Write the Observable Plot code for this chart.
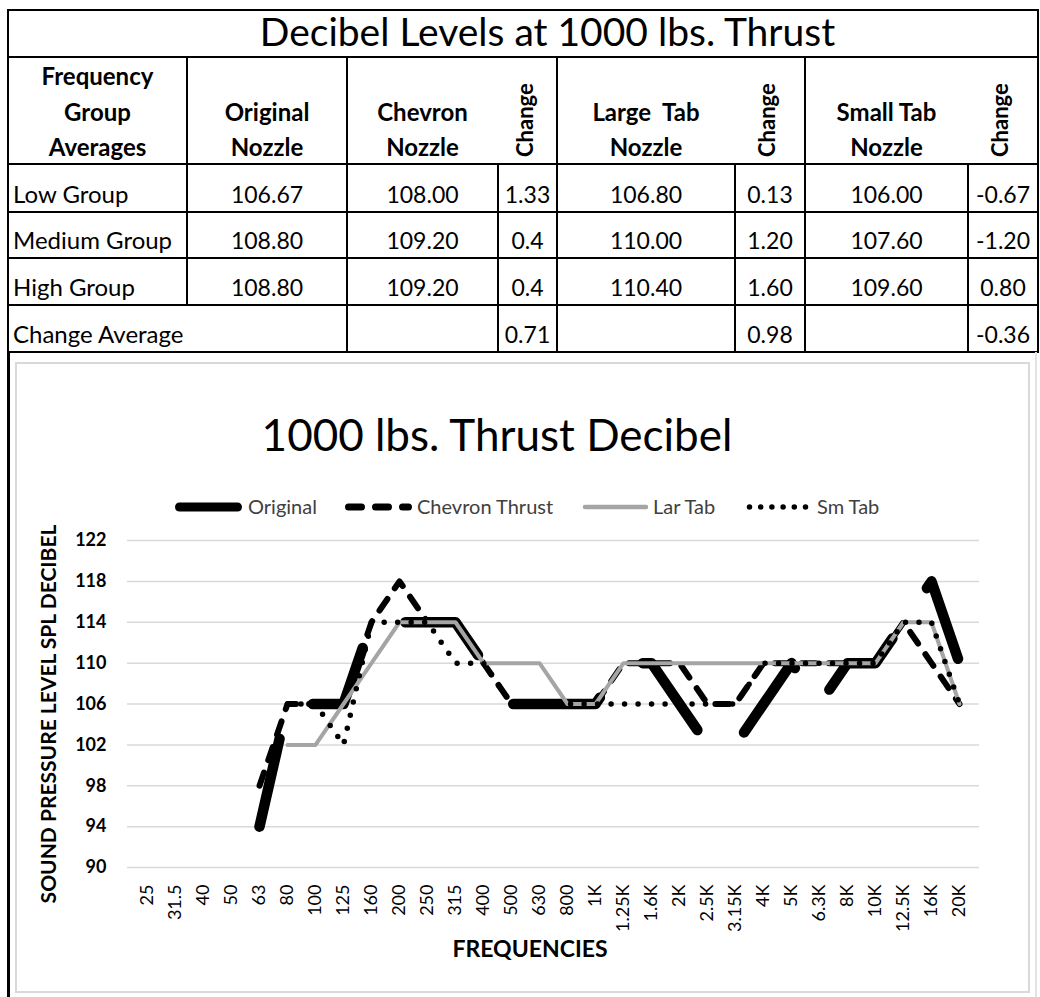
<!DOCTYPE html>
<html>
<head>
<meta charset="utf-8">
<script src="https://cdn.jsdelivr.net/npm/d3@7"></script>
<script src="https://cdn.jsdelivr.net/npm/@observablehq/plot@0.6"></script>
<style>
html,body{margin:0;padding:0;background:#fff;}
#page{position:relative;width:1040px;height:997px;overflow:hidden;font-family:Lato,"Open Sans",sans-serif;color:#000;}
.cell{position:absolute;box-sizing:border-box;border:2px solid #000;}
.t{position:absolute;white-space:pre;}
</style>
</head>
<body>
<div id="page"></div>
<script>
// ---------- DATA ----------
const frequencies = ["25","31.5","40","50","63","80","100","125","160","200","250","315","400","500","630","800","1K","1.25K","1.6K","2K","2.5K","3.15K","4K","5K","6.3K","8K","10K","12.5K","16K","20K"];
const seriesNames = ["Original","Chevron Thrust","Lar Tab","Sm Tab"];
const original = [null,null,null,null,94,106,106,106,114,114,114,114,110,106,106,106,106,110,110,106,102,102,106,110,106,110,110,114,118,110];
const chevron  = [null,null,null,null,98,106,106,106,114,118,114,114,110,106,106,106,106,110,110,110,106,106,110,110,110,110,110,114,110,106];
const larTab   = [null,null,null,null,null,102,102,106,110,114,114,114,110,110,110,106,106,110,110,110,110,110,110,110,110,110,110,114,114,106];
const smTab    = [null,null,null,null,null,106,106,102,114,114,114,110,110,106,106,106,106,106,106,106,106,106,110,110,110,110,110,114,114,106];
const yTicks = [90,94,98,102,106,110,114,118,122];
const chartTitle = "1000 lbs. Thrust Decibel";
const xAxisTitle = "FREQUENCIES";
const yAxisTitle = "SOUND PRESSURE LEVEL SPL DECIBEL";

const tableTitle = "Decibel Levels at 1000 lbs. Thrust";
const headerGroup = ["Frequency","Group","Averages"];
const headerNozzles = [["Original","Nozzle"],["Chevron","Nozzle"],["Large  Tab","Nozzle"],["Small Tab","Nozzle"]];
const headerChange = "Change";
const groupNames = ["Low Group","Medium Group","High Group"];
const originalNozzle = ["106.67","108.80","108.80"];
const chevronNozzle  = ["108.00","109.20","109.20"];
const chevronChange  = ["1.33","0.4","0.4"];
const largeTabNozzle = ["106.80","110.00","110.40"];
const largeTabChange = ["0.13","1.20","1.60"];
const smallTabNozzle = ["106.00","107.60","109.60"];
const smallTabChange = ["-0.67","-1.20","0.80"];
const changeAverageLabel = "Change Average";
const changeAverage  = ["0.71","0.98","-0.36"];

// ---------- LAYOUT HELPERS ----------
const page = document.getElementById("page");
function box(x0,y0,x1,y1){
  const d=document.createElement("div"); d.className="cell";
  d.style.left=(x0-1)+"px"; d.style.top=(y0-1)+"px";
  d.style.width=(x1-x0+2)+"px"; d.style.height=(y1-y0+2)+"px";
  page.appendChild(d); return d;
}
function text(str,x,baseline,{size=22,weight=400,anchor="middle",color="#000",rotate=false}={}){
  const d=document.createElement("div"); d.className="t"; d.textContent=str;
  d.style.fontSize=size+"px"; d.style.fontWeight=weight;
  d.style.lineHeight=(1.2*size)+"px"; d.style.color=color;
  if(!rotate){
    d.style.top=(baseline-0.987*size)+"px";
    d.style.left=x+"px";
    if(anchor==="middle") d.style.transform="translateX(-50%)";
  } else {
    d.style.left=(x-0.987*size)+"px"; d.style.top=baseline+"px";
    d.style.transformOrigin="0 0"; d.style.transform="rotate(-90deg)";
  }
  page.appendChild(d); return d;
}

// ---------- TABLE ----------
const cx=[8,187,347,498,557,735,805,968,1038];
const ry=[10,57,164,212,258,305,352];
const mid=j=>(cx[j]+cx[j+1])/2;
box(8,10,1038,57);
text(tableTitle,547.5,46,{size:39});
box(cx[0],ry[1],cx[1],ry[2]); box(cx[1],ry[1],cx[2],ry[2]);
box(cx[2],ry[1],cx[4],ry[2]); box(cx[4],ry[1],cx[6],ry[2]); box(cx[6],ry[1],cx[8],ry[2]);
headerGroup.forEach((s,k)=>text(s,mid(0),86+35.3*k,{size:24,weight:700}));
[1,2,4,6].forEach((j,k)=>{
  text(headerNozzles[k][0],mid(j),121.7,{size:24,weight:700});
  text(headerNozzles[k][1],mid(j),156.7,{size:24,weight:700});
});
[3,5,7].forEach(j=>text(headerChange,mid(j)+6,157,{size:22,weight:700,rotate:true}));
const cols=[originalNozzle,chevronNozzle,chevronChange,largeTabNozzle,largeTabChange,smallTabNozzle,smallTabChange];
groupNames.forEach((g,r)=>{
  for(let j=0;j<8;j++) box(cx[j],ry[r+2],cx[j+1],ry[r+3]);
  const base=ry[r+3]-8.6;
  text(g,13,base,{size:24,anchor:"start"});
  cols.forEach((c,k)=>text(c[r],mid(k+1),base,{size:23}));
});
box(cx[0],ry[5],cx[2],ry[6]);
for(let j=2;j<8;j++) box(cx[j],ry[5],cx[j+1],ry[6]);
text(changeAverageLabel,13,ry[6]-8.6,{size:24,anchor:"start"});
[3,5,7].forEach((j,k)=>text(changeAverage[k],mid(j),ry[6]-8.6,{size:23}));

// side lines below table
const lineL=document.createElement("div");
Object.assign(lineL.style,{position:"absolute",left:"7px",top:"352px",width:"2.5px",height:"645px",background:"#000"});
page.appendChild(lineL);
const lineR=document.createElement("div");
Object.assign(lineR.style,{position:"absolute",left:"1035px",top:"352px",width:"1.5px",height:"645px",background:"#e3e3e3"});
page.appendChild(lineR);

// ---------- CHART BOX ----------
const cbox=document.createElement("div");
Object.assign(cbox.style,{position:"absolute",left:"15px",top:"362px",width:"1015px",height:"631px",boxSizing:"border-box",border:"2px solid #d9d9d9"});
page.appendChild(cbox);
text(chartTitle,497,451,{size:44,color:"#000"});

// legend
const seriesStyles=[
  {stroke:"#000",strokeWidth:10.5,strokeDasharray:"90 61"},
  {stroke:"#000",strokeWidth:6,strokeDasharray:"14 13"},
  {stroke:"#a5a5a5",strokeWidth:4},
  {stroke:"#000",strokeWidth:5.5,strokeDasharray:"0 13.5"}
];
const legendStyles=[
  {x0:179.5,x1:237.5,w:9,dash:null,color:"#000",tx:248},
  {x0:348.5,x1:408.5,w:7,dash:"13 14",color:"#000",tx:417},
  {x0:585,x1:646,w:4.5,dash:null,color:"#a5a5a5",tx:653},
  {x0:749.5,x1:806,w:5.5,dash:"0 11.2",color:"#000",tx:817}
];
const lsvg=d3.create("svg").attr("width",1040).attr("height",40)
  .style("position","absolute").style("left","0px").style("top","487px");
legendStyles.forEach((s,k)=>{
  lsvg.append("line").attr("x1",s.x0).attr("x2",s.x1).attr("y1",20).attr("y2",20)
    .attr("stroke",s.color).attr("stroke-width",s.w).attr("stroke-linecap","round")
    .attr("stroke-dasharray",s.dash);
  text(seriesNames[k],s.tx,514,{size:20,anchor:"start",color:"#404040"});
});
page.appendChild(lsvg.node());

// ---------- PLOT ----------
const seriesValues=[original,chevron,larTab,smTab];
const rowsFor=vals=>frequencies.map((f,i)=>({freq:f,db:vals[i]}));
const chart=Plot.plot({
  width:1011,height:469,
  marginLeft:110,marginRight:49,marginTop:18,marginBottom:124,
  style:{fontFamily:"Lato, sans-serif",background:"transparent",overflow:"visible"},
  x:{type:"point",domain:frequencies,padding:0.5},
  y:{domain:[90,122]},
  marks:[
    Plot.gridY(yTicks,{stroke:"#d9d9d9",strokeOpacity:1,strokeWidth:1.5}),
    Plot.axisY(yTicks,{tickSize:0,tickPadding:21,fontSize:18,fontWeight:"bold",label:null}),
    Plot.axisX({tickSize:0,tickRotate:-90,tickPadding:17,fontSize:18,label:null}),
    ...seriesValues.map((vals,k)=>Plot.line(rowsFor(vals),{x:"freq",y:"db",strokeLinecap:"round",strokeLinejoin:"round",...seriesStyles[k]})),
    Plot.text([yAxisTitle],{text:d=>d,frameAnchor:"left",textAnchor:"middle",rotate:-90,dx:-78,dy:10,fontSize:21,fontWeight:"bold",lineAnchor:"middle",fill:"#000"}),
    Plot.text([xAxisTitle],{text:d=>d,frameAnchor:"bottom",textAnchor:"middle",dx:-23.5,dy:82,fontSize:23,fontWeight:"bold",lineAnchor:"middle",fill:"#000"})
  ]
});
chart.style.position="absolute"; chart.style.left="17px"; chart.style.top="522px";
page.appendChild(chart);
</script>
</body>
</html>
